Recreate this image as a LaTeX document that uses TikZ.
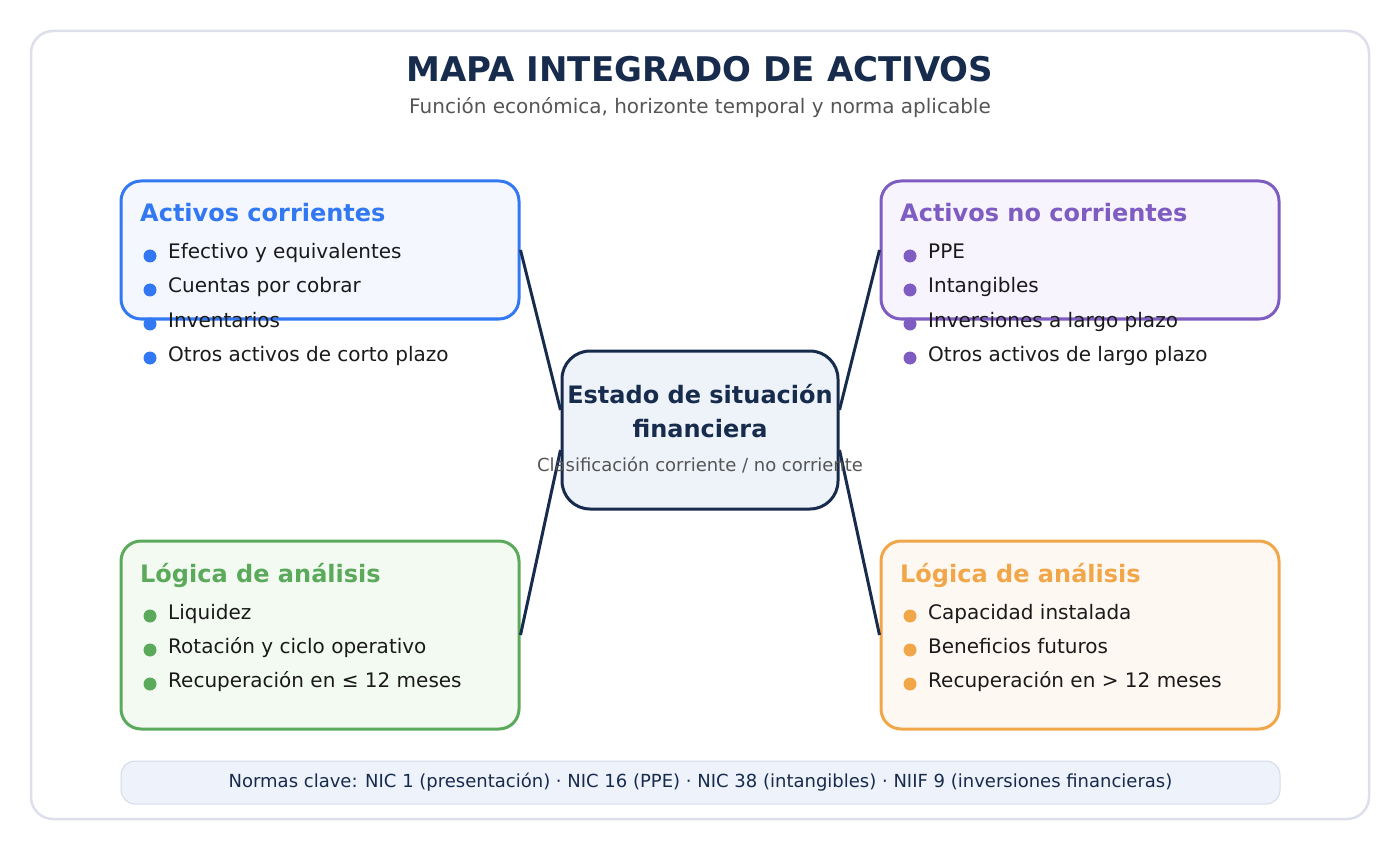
\documentclass[tikz,border=0pt]{standalone}
\usepackage{fontspec}
\setmainfont{DejaVu Sans}
\definecolor{mapInk}{HTML}{172B4D}
\definecolor{mapText}{HTML}{1A1A1A}
\definecolor{mapGray}{HTML}{555555}
\definecolor{mapFrame}{HTML}{DDE0EC}
\definecolor{mapBlue}{HTML}{3178F2}
\definecolor{mapBlueBg}{HTML}{F4F7FE}
\definecolor{mapPurple}{HTML}{7E5CC1}
\definecolor{mapPurpleBg}{HTML}{F7F4FD}
\definecolor{mapGreen}{HTML}{5BAA5C}
\definecolor{mapGreenBg}{HTML}{F3FAF2}
\definecolor{mapOrange}{HTML}{F2A64A}
\definecolor{mapOrangeBg}{HTML}{FEF8F2}
\definecolor{mapCenterBg}{HTML}{EEF3FA}
\definecolor{mapFootBg}{HTML}{EEF2FA}
\definecolor{mapFootLine}{HTML}{D3DBEA}
\tikzset{
  every picture/.style={font=\fontsize{20}{24}\selectfont, text=mapText},
  map box/.style={line width=3pt, rounded corners=20pt, minimum width=398pt,
    minimum height=138pt, inner sep=0pt},
  map head/.style={anchor=base west, inner sep=0pt, font=\fontsize{24}{28}\selectfont\bfseries},
  map item/.style={anchor=base west, inner sep=0pt},
  map link/.style={draw=mapInk, line width=3pt}
}

\begin{document}
\begin{tikzpicture}[x=1pt,y=-1pt]
  \useasboundingbox (0,0) rectangle (1400,850);
  \draw[mapFrame, line width=2.5pt, rounded corners=22pt] (31,31) rectangle (1369,819);
  \node[anchor=base, text=mapInk, font=\fontsize{34}{40}\selectfont\bfseries] (title) at (700,82) {MAPA INTEGRADO DE ACTIVOS};
  \node[anchor=base, text=mapGray] (subtitle) at (700,114) {Función económica, horizonte temporal y norma aplicable};

  % cajas
  \node[map box, draw=mapBlue, fill=mapBlueBg] (ac) at (320,250) {};
  \node[map box, draw=mapPurple, fill=mapPurpleBg] (anc) at (1080,250) {};
  \node[map box, draw=mapGreen, fill=mapGreenBg, minimum height=188pt] (lac) at (320,635) {};
  \node[map box, draw=mapOrange, fill=mapOrangeBg, minimum height=188pt] (lanc) at (1080,635) {};
  \node[draw=mapInk, fill=mapCenterBg, line width=3pt, rounded corners=28pt,
    minimum width=276pt, minimum height=158pt] (center) at (700,430) {};

  \draw[map link] (ac.east) -- ([yshift=20pt]center.west);
  \draw[map link] (anc.west) -- ([yshift=20pt]center.east);
  \draw[map link] (lac.east) -- ([yshift=-20pt]center.west);
  \draw[map link] (lanc.west) -- ([yshift=-20pt]center.east);

  \node[anchor=base, text=mapInk, font=\fontsize{24}{28}\selectfont\bfseries] (center-a) at (700,403) {Estado de situación};
  \node[anchor=base, text=mapInk, font=\fontsize{24}{28}\selectfont\bfseries] (center-b) at (700,437) {financiera};
  \node[anchor=base, text=mapGray, font=\fontsize{18}{21}\selectfont] (center-c) at (700,471) {Clasificación corriente / no corriente};

  % listas
  \node[map head, text=mapBlue] (ac-head) at (140,222) {Activos corrientes};
  \foreach \txt [count=\i] in {Efectivo y equivalentes, Cuentas por cobrar, Inventarios, Otros activos de corto plazo} {
    \fill[mapBlue] (150,{222+34*\i}) circle (6.5pt);
    \node[map item] (ac-\i) at (168,{225+34*\i}) {\txt};
  }
  \node[map head, text=mapPurple] (anc-head) at (900,222) {Activos no corrientes};
  \foreach \txt [count=\i] in {PPE, Intangibles, Inversiones a largo plazo, Otros activos de largo plazo} {
    \fill[mapPurple] (910,{222+34*\i}) circle (6.5pt);
    \node[map item] (anc-\i) at (928,{225+34*\i}) {\txt};
  }
  \node[map head, text=mapGreen] (lac-head) at (140,582) {Lógica de análisis};
  \foreach \txt [count=\i] in {Liquidez, Rotación y ciclo operativo, Recuperación en ≤ 12 meses} {
    \fill[mapGreen] (150,{582+34*\i}) circle (6.5pt);
    \node[map item] (lac-\i) at (168,{585+34*\i}) {\txt};
  }
  \node[map head, text=mapOrange] (lanc-head) at (900,582) {Lógica de análisis};
  \foreach \txt [count=\i] in {Capacidad instalada, Beneficios futuros, Recuperación en > 12 meses} {
    \fill[mapOrange] (910,{582+34*\i}) circle (6.5pt);
    \node[map item] (lanc-\i) at (928,{585+34*\i}) {\txt};
  }

  \node[fill=mapFootBg, draw=mapFootLine, line width=1pt, rounded corners=14pt,
    minimum width=1159pt, minimum height=43pt, text=mapInk, font=\fontsize{18}{21}\selectfont]
    (foot) at (700.5,782.5) {Normas clave: NIC 1 (presentación) · NIC 16 (PPE) · NIC 38 (intangibles) · NIIF 9 (inversiones financieras)};
\end{tikzpicture}
\end{document}
